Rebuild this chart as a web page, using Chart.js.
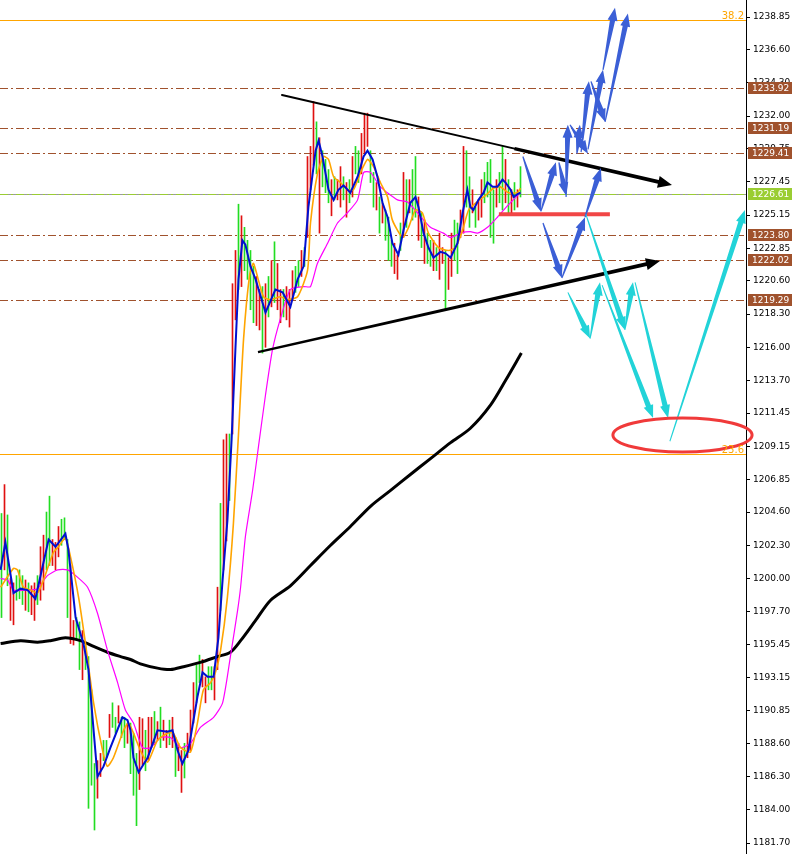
<!DOCTYPE html>
<html>
<head>
<meta charset="utf-8">
<script src="https://cdn.jsdelivr.net/npm/chart.js@4"></script>
<style>
  html, body { margin: 0; padding: 0; background: #fff; }
  canvas { display: block; }
</style>
</head>
<body>
<canvas id="chart" width="792" height="854"></canvas>
<script>
// bar highs / lows (XAUUSD style bars), one entry per bar
var highs = [
  1204.5,1206.5,1204.4,1200.0,1199.7,1200.2,1200.6,1200.2,1199.9,1199.7,
  1199.5,1199.7,1200.2,1202.2,1203.0,1204.6,1205.7,1202.7,1202.5,1203.6,
  1204.1,1204.2,1202.7,1200.9,1197.1,1197.3,1197.0,1196.4,1195.5,1194.6,
  1192.3,1187.2,1187.4,1187.9,1188.8,1188.8,1190.6,1191.4,1190.4,1191.2,
  1190.4,1190.4,1190.0,1190.0,1189.3,1187.9,1190.4,1190.3,1189.5,1190.4,
  1190.4,1190.8,1190.1,1191.1,1190.2,1189.5,1190.2,1190.4,1189.0,1188.6,
  1188.1,1188.6,1189.3,1190.9,1192.8,1194.0,1194.7,1194.4,1193.2,1193.9,
  1193.9,1193.9,1199.4,1205.2,1209.6,1210.0,1210.0,1220.4,1222.7,1225.9,
  1225.1,1224.3,1223.4,1222.7,1221.6,1220.9,1220.0,1220.2,1220.4,1220.9,
  1222.0,1223.3,1221.8,1220.0,1220.0,1220.2,1220.0,1221.3,1221.6,1222.0,
  1222.7,1222.9,1229.2,1229.9,1233.0,1231.6,1230.5,1229.6,1229.0,1228.3,
  1227.6,1227.8,1227.6,1228.5,1227.8,1227.4,1227.6,1229.2,1229.9,1229.6,
  1230.8,1232.2,1232.2,1229.6,1228.1,1227.4,1226.4,1226.0,1225.5,1225.0,
  1223.4,1223.2,1222.4,1224.6,1228.1,1227.6,1227.6,1228.3,1229.2,1226.4,
  1225.3,1224.8,1223.9,1223.4,1223.4,1222.9,1223.9,1222.9,1222.7,1222.2,
  1223.9,1224.8,1224.6,1225.5,1229.9,1229.6,1227.8,1226.9,1225.7,1226.2,
  1227.6,1228.1,1228.8,1229.0,1226.9,1227.6,1228.1,1229.9,1229.0,1227.6,
  1226.9,1227.4,1226.9,1228.5
];
var lows = [
  1197.3,1200.6,1199.5,1197.1,1196.8,1198.5,1198.6,1198.2,1197.8,1197.7,
  1197.5,1197.1,1198.2,1198.5,1199.2,1200.6,1200.9,1200.9,1200.6,1201.5,
  1202.3,1202.7,1197.3,1195.5,1195.4,1195.7,1193.7,1193.0,1193.7,1184.1,
  1185.7,1182.6,1184.8,1186.3,1187.4,1187.6,1189.0,1189.7,1189.3,1190.0,
  1189.0,1188.3,1188.6,1186.5,1185.0,1182.9,1185.4,1187.1,1186.7,1187.4,
  1188.3,1188.5,1188.8,1188.3,1188.8,1188.3,1188.5,1188.3,1186.3,1186.7,
  1185.2,1186.2,1187.6,1188.1,1190.0,1191.4,1192.8,1192.5,1191.4,1192.3,
  1192.3,1191.6,1193.7,1197.8,1200.6,1202.6,1205.4,1210.0,1217.9,1220.0,
  1220.2,1221.3,1220.7,1218.6,1217.7,1217.5,1217.2,1215.6,1216.0,1218.1,
  1218.8,1219.1,1218.6,1217.7,1218.1,1217.9,1217.4,1219.3,1219.8,1220.2,
  1220.9,1221.6,1223.6,1226.9,1228.6,1228.0,1223.9,1227.1,1226.7,1226.0,
  1225.1,1226.2,1226.2,1225.7,1226.2,1225.0,1226.0,1226.4,1228.0,1227.4,
  1228.0,1229.4,1229.9,1227.4,1225.7,1225.5,1223.9,1224.6,1223.4,1222.0,
  1221.6,1221.1,1220.7,1222.7,1223.6,1224.3,1225.3,1224.8,1225.0,1223.4,
  1222.9,1221.8,1221.8,1221.6,1221.3,1221.3,1220.7,1221.8,1218.6,1220.0,
  1220.9,1222.0,1221.1,1223.6,1223.9,1225.7,1224.3,1225.3,1224.3,1224.8,
  1225.0,1226.0,1226.4,1223.6,1223.2,1225.7,1226.0,1225.5,1226.0,1225.3,
  1225.3,1225.5,1225.7,1226.4
];
// G = up bar, R = down bar
var barDir =
  "GRGRRGGGRG" + "RRGRRGGRRR" + "GGGRRGGRGG" + "GGRRGGRGGR" + "GGRGGGRRGR" +
  "RGRGRRGRGR" + "RGRRRGGRRG" + "GRRGRRGRRG" + "RGGGGRRGRG" + "RGRRGRRRGG" +
  "RGRRRGRGGG" + "RGRRGRGRGG" + "RRRGGRGRGG" + "GRRGRGRGGR" + "GRGGRGRRGR" +
  "RGGRRGGRGR" + "RGGGGRGGRG" + "RGRG";

// moving averages as [bar index, price]
var maFast = [[-0.3,1200.6],[1.3,1202.5],[4,1199.0],[6.3,1199.3],[8.7,1199.2],[11.3,1198.6],[15.7,1202.7],[18,1202.2],[21.3,1203.1],[22.3,1202.0],[24.7,1197.3],[27.3,1195.5],[29,1193.7],[32,1186.3],[34,1187.0],[36.3,1188.3],[40.3,1190.4],[42,1190.2],[43,1189.5],[44,1187.6],[45.7,1186.6],[48.7,1187.6],[52,1189.5],[55.3,1189.4],[57,1189.5],[58.7,1188.1],[60.3,1187.2],[62.3,1188.1],[65.3,1191.8],[67,1193.5],[68.7,1193.2],[70.7,1193.2],[72.3,1195.9],[73.7,1199.9],[75.3,1204.0],[76.7,1209.6],[78,1216.0],[79,1220.7],[80.3,1223.4],[81.3,1223.1],[83,1221.6],[84.7,1220.7],[88,1218.4],[91.3,1220.0],[93.7,1219.8],[96.3,1218.8],[98.7,1220.7],[100.7,1221.6],[102.3,1225.7],[104.7,1229.6],[105.7,1230.3],[107,1229.2],[109,1226.9],[110.7,1226.2],[112.3,1226.9],[114,1227.2],[116.3,1226.7],[118.7,1227.8],[120.7,1229.2],[122,1229.6],[123.7,1229.0],[125.3,1227.8],[127,1226.0],[128.7,1225.0],[130.3,1223.2],[132.3,1222.4],[134,1224.1],[136.3,1226.0],[138,1226.4],[139,1225.7],[140.7,1223.9],[142.3,1222.9],[144,1222.2],[146.3,1222.6],[148,1222.5],[149.7,1222.2],[152,1223.2],[153.7,1225.3],[155.3,1226.9],[156.3,1225.7],[157.3,1225.5],[159,1226.2],[160.7,1226.7],[162,1227.4],[163.7,1227.1],[165.3,1227.1],[167,1227.6],[168,1227.4],[169.7,1226.9],[170.7,1226.4],[172,1226.6],[173,1226.7]];
var maMid = [[-0.3,1199.4],[4,1200.7],[5.3,1200.6],[7.3,1199.4],[9.7,1199.2],[12,1199.0],[14,1199.9],[17.3,1201.8],[19,1202.2],[21.3,1202.8],[23,1201.5],[25.7,1198.7],[28,1195.5],[30.7,1191.4],[33.7,1188.1],[35.3,1187.0],[37.3,1187.6],[40.7,1189.5],[42.3,1190.0],[44,1189.3],[46.3,1188.1],[48.7,1187.3],[52,1188.8],[55.3,1189.3],[57.3,1189.3],[59.7,1188.3],[63,1188.0],[65.3,1190.0],[67.3,1192.3],[69.7,1192.8],[71.3,1193.5],[73,1195.0],[75.3,1198.7],[77.3,1203.8],[79,1210.0],[80.7,1216.6],[82.7,1221.0],[84,1221.8],[87.3,1219.5],[89.7,1219.3],[93,1219.5],[95.3,1219.3],[98.7,1219.5],[102,1221.3],[103,1224.6],[105.3,1228.0],[107.3,1229.2],[109,1229.0],[110.7,1227.8],[113,1227.4],[115.3,1226.9],[117.3,1226.9],[119.7,1228.1],[122,1229.0],[124,1228.5],[126.3,1227.4],[128.7,1226.4],[130.3,1224.8],[133.7,1223.6],[135.7,1224.3],[138,1225.5],[140.3,1225.3],[142.3,1223.9],[145.7,1222.9],[149,1222.7],[151.3,1222.9],[153.7,1224.1],[155.7,1225.5],[158.7,1226.1],[161.3,1226.5],[164,1227.0],[166.3,1227.1],[169,1226.7],[172,1226.7],[173,1227.0]];
var maSlow = [[-0.3,1200.0],[2,1199.9],[4,1199.2],[8.7,1199.2],[12,1199.3],[15.3,1200.2],[18.7,1200.6],[22,1200.6],[25.3,1200.1],[28.7,1199.4],[32,1197.6],[35.3,1195.05],[38.7,1192.8],[41.3,1190.9],[44,1190.0],[47,1188.3],[49.7,1188.3],[53,1189.0],[56.3,1189.0],[59.7,1188.3],[63,1188.6],[66.3,1189.7],[70.7,1190.4],[73.7,1191.4],[76.3,1194.6],[78.7,1197.8],[79.7,1199.4],[81.3,1202.9],[83.7,1206.1],[85.7,1209.2],[88,1212.7],[90.3,1215.8],[93,1218.0],[96.3,1220.0],[100.7,1220.2],[103,1220.2],[105.3,1221.8],[108.7,1223.2],[112,1224.6],[115.3,1225.3],[118.7,1226.2],[120.7,1228.1],[123,1228.1],[126.3,1227.1],[132,1226.2],[135.3,1226.05],[138.7,1225.3],[143,1224.3],[147.3,1223.9],[149.7,1223.6],[153,1223.9],[156.3,1224.0],[158.7,1223.9],[162,1224.3],[165.3,1225.0],[168.7,1225.8],[172,1226.5],[173,1226.7]];
var maLong = [[-0.3,1195.5],[6.3,1195.7],[12,1195.6],[16.3,1195.7],[21.3,1195.9],[26.3,1195.7],[30.7,1195.3],[35.3,1194.9],[39.7,1194.6],[43,1194.4],[46.3,1194.1],[52,1193.8],[56.3,1193.7],[60.7,1193.9],[66.3,1194.2],[72,1194.6],[76.3,1194.9],[79.7,1195.7],[84.7,1197.1],[89.7,1198.5],[96.3,1199.5],[103,1200.9],[109.7,1202.3],[116.3,1203.6],[123,1205.0],[129.7,1206.1],[136.3,1207.2],[143,1208.3],[149.7,1209.4],[156.3,1210.4],[163,1212.0],[168,1213.7],[173.3,1215.6]];

// price axis tick labels
var tickValues = [1238.85,1236.60,1234.30,1232.00,1229.75,1227.45,1225.15,1222.85,1220.60,1218.30,1216.00,1213.70,1211.45,1209.15,1206.85,1204.60,1202.30,1200.00,1197.70,1195.45,1193.15,1190.85,1188.60,1186.30,1184.00,1181.70];

// horizontal levels
var brownLevels = [1233.92, 1231.19, 1229.41, 1223.80, 1222.02, 1219.29];
var greenLevel = 1226.61;
var fibValues = [1238.65, 1208.62];
var fibLabels = ["38.2", "23.6"];

// drawn objects, in [bar index, price] coordinates
var trendUpper = [93.5, 1233.46, 223.5, 1227.23];
var trendLower = [85.5, 1215.67, 219.5, 1221.97];
var supportLine = [165.8, 202.8, 1225.2];
var targetZone = [227, 1209.93, 23.2, 1.18];
var blueArrows = [
  [173.8,1229.2,179.8,1225.4],[179.8,1225.4,184.8,1228.8],[185.8,1228.8,188.2,1226.5],
  [188.2,1226.4,188.8,1231.4],[189.5,1231.4,195.5,1229.4],[191.8,1229.4,192.8,1231.4],
  [193.2,1229.5,195.8,1234.4],[196.5,1234.4,201.2,1231.6],[195.5,1229.7,200.5,1235.2],
  [200.5,1235.2,204.5,1239.5],[201.2,1231.6,208.8,1239.1],
  [180.5,1224.6,186.8,1220.8],[186.8,1220.8,194.5,1225.0],[194.5,1225.0,199.8,1228.4]
];
var cyanArrows = [
  [188.8,1219.8,196.2,1216.6],[196.2,1216.6,199.5,1220.5],[194.8,1225.2,207.8,1217.2],
  [207.8,1217.2,210.5,1220.5],[200.2,1220.3,217.2,1211.1],[211.2,1220.5,222.2,1211.1],
  [222.8,1209.5,247.8,1225.5]
];

function arrow(ctx, x1, y1, x2, y2, color, w0, w1, hw, hl) {
  var dx = x2 - x1, dy = y2 - y1, L = Math.hypot(dx, dy);
  var ux = dx / L, uy = dy / L, nx = -uy, ny = ux;
  var bx = x2 - ux * hl, by = y2 - uy * hl;
  ctx.beginPath();
  ctx.moveTo(x1 + nx * w0, y1 + ny * w0);
  ctx.lineTo(bx + nx * w1, by + ny * w1);
  ctx.lineTo(bx + nx * hw, by + ny * hw);
  ctx.lineTo(x2, y2);
  ctx.lineTo(bx - nx * hw, by - ny * hw);
  ctx.lineTo(bx - nx * w1, by - ny * w1);
  ctx.lineTo(x1 - nx * w0, y1 - ny * w0);
  ctx.closePath();
  ctx.fillStyle = color;
  ctx.fill();
}

var overlay = {
  id: "overlay",
  beforeDatasetsDraw: function (chart) {
    var ctx = chart.ctx, y = chart.scales.y, a = chart.chartArea;
    ctx.save();
    ctx.lineWidth = 1;
    // fibo lines
    ctx.strokeStyle = "#ffa500";
    fibValues.forEach(function (v) {
      var py = Math.round(y.getPixelForValue(v)) + 0.5;
      ctx.beginPath(); ctx.moveTo(a.left, py); ctx.lineTo(a.right, py); ctx.stroke();
    });
    // green level with grey line under it
    var gy = Math.round(y.getPixelForValue(greenLevel)) + 0.5;
    ctx.strokeStyle = "#9a9a9a";
    ctx.beginPath(); ctx.moveTo(a.left, gy); ctx.lineTo(a.right, gy); ctx.stroke();
    ctx.setLineDash([8, 3, 2, 3]);
    ctx.strokeStyle = "#9acd32";
    ctx.beginPath(); ctx.moveTo(a.left, gy); ctx.lineTo(a.right, gy); ctx.stroke();
    ctx.strokeStyle = "#a0522d";
    brownLevels.forEach(function (v) {
      var py = Math.round(y.getPixelForValue(v)) + 0.5;
      ctx.beginPath(); ctx.moveTo(a.left, py); ctx.lineTo(a.right, py); ctx.stroke();
    });
    ctx.restore();
  },
  afterDatasetsDraw: function (chart) {
    var ctx = chart.ctx, x = chart.scales.x, y = chart.scales.y;
    function px(i) { return x.getPixelForValue(i); }
    function py(v) { return y.getPixelForValue(v); }
    ctx.save();
    ctx.lineCap = "round";

    // upper trend line: thin part then heavy arrow
    var ux1 = px(trendUpper[0]), uy1 = py(trendUpper[1]), ux2 = px(trendUpper[2]), uy2 = py(trendUpper[3]);
    var t = (px(171) - ux1) / (ux2 - ux1);
    var mx = ux1 + (ux2 - ux1) * t, my = uy1 + (uy2 - uy1) * t;
    ctx.strokeStyle = "#000";
    ctx.lineWidth = 2;
    ctx.beginPath(); ctx.moveTo(ux1, uy1); ctx.lineTo(mx, my); ctx.stroke();
    arrow(ctx, mx, my, ux2, uy2, "#000", 1.6, 2, 6, 14);

    // lower trend line
    arrow(ctx, px(trendLower[0]), py(trendLower[1]), px(trendLower[2]), py(trendLower[3]), "#000", 1.2, 2, 6, 14);

    // red support line
    ctx.strokeStyle = "rgba(240,60,60,0.95)";
    ctx.lineWidth = 4;
    ctx.lineCap = "butt";
    ctx.beginPath();
    ctx.moveTo(px(supportLine[0]), py(supportLine[2]));
    ctx.lineTo(px(supportLine[1]), py(supportLine[2]));
    ctx.stroke();

    blueArrows.forEach(function (s) {
      arrow(ctx, px(s[0]), py(s[1]), px(s[2]), py(s[3]), "#3b5fd6", 0.6, 2.6, 5, 13);
    });
    cyanArrows.forEach(function (s) {
      arrow(ctx, px(s[0]), py(s[1]), px(s[2]), py(s[3]), "#22d3d8", 0.5, 2.6, 5, 13);
    });

    // target ellipse
    var cx = px(targetZone[0]), cy = py(targetZone[1]);
    var rx = px(targetZone[0] + targetZone[2]) - cx;
    var ry = py(targetZone[1] - targetZone[3]) - cy;
    ctx.strokeStyle = "#f03a3a";
    ctx.lineWidth = 3;
    ctx.beginPath(); ctx.ellipse(cx, cy, rx, ry, 0, 0, Math.PI * 2); ctx.stroke();
    ctx.restore();
  },
  afterDraw: function (chart) {
    var ctx = chart.ctx, y = chart.scales.y, a = chart.chartArea;
    ctx.save();
    ctx.font = "9px 'DejaVu Sans'";
    ctx.textBaseline = "middle";
    ctx.textAlign = "left";
    function box(v, color) {
      var cy = Math.round(y.getPixelForValue(v));
      ctx.fillStyle = color;
      ctx.fillRect(a.right + 2, cy - 6, 44, 12);
      ctx.fillStyle = "#fff";
      ctx.fillText(v.toFixed(2), a.right + 6, cy + 0.5);
    }
    brownLevels.forEach(function (v) { box(v, "#a0522d"); });
    box(greenLevel, "#9acd32");
    // fibo labels
    ctx.font = "10px 'DejaVu Sans'";
    ctx.fillStyle = "#ffa500";
    ctx.textAlign = "right";
    ctx.textBaseline = "bottom";
    fibValues.forEach(function (v, i) {
      ctx.fillText(fibLabels[i], a.right - 2, Math.round(y.getPixelForValue(v)) + 1);
    });
    ctx.restore();
  }
};

function pts(arr) { return arr.map(function (p) { return { x: p[0], y: p[1] }; }); }

new Chart(document.getElementById("chart"), {
  type: "bar",
  data: {
    datasets: [
      {
        type: "line", data: pts(maFast), borderColor: "#0010d0", borderWidth: 2,
        pointRadius: 0, tension: 0, order: 1
      },
      {
        type: "line", data: pts(maMid), borderColor: "#ffa500", borderWidth: 1.6,
        pointRadius: 0, tension: 0.2, order: 2
      },
      {
        type: "line", data: pts(maSlow), borderColor: "#ff00ff", borderWidth: 1.2,
        pointRadius: 0, tension: 0.2, order: 3
      },
      {
        type: "line", data: pts(maLong), borderColor: "#000", borderWidth: 3,
        pointRadius: 0, tension: 0.3, order: 4
      },
      {
        type: "bar",
        data: highs.map(function (h, i) { return { x: i, y: [lows[i], h] }; }),
        backgroundColor: barDir.split("").map(function (d) { return d === "G" ? "#22dd22" : "#e01010"; }),
        borderWidth: 0,
        barThickness: 1,
        grouped: false,
        order: 10
      }
    ]
  },
  options: {
    responsive: false,
    animation: false,
    devicePixelRatio: 1,
    layout: { padding: 0 },
    plugins: { legend: { display: false }, tooltip: { enabled: false } },
    scales: {
      x: { type: "linear", min: -0.5, max: 248.17, display: false, offset: false },
      y: {
        position: "right",
        min: 1180.94,
        max: 1240.03,
        afterFit: function (s) { s.width = 46; s.paddingTop = 0; s.paddingBottom = 0; },
        afterBuildTicks: function (s) { s.ticks = tickValues.map(function (v) { return { value: v }; }); },
        ticks: {
          autoSkip: false,
          padding: 3,
          color: "#000",
          font: { family: "DejaVu Sans", size: 9 },
          callback: function (v) { return Number(v).toFixed(2); }
        },
        grid: { drawOnChartArea: false, tickLength: 4, color: "#000" },
        border: { color: "#000" }
      }
    }
  },
  plugins: [overlay]
});
</script>
</body>
</html>
